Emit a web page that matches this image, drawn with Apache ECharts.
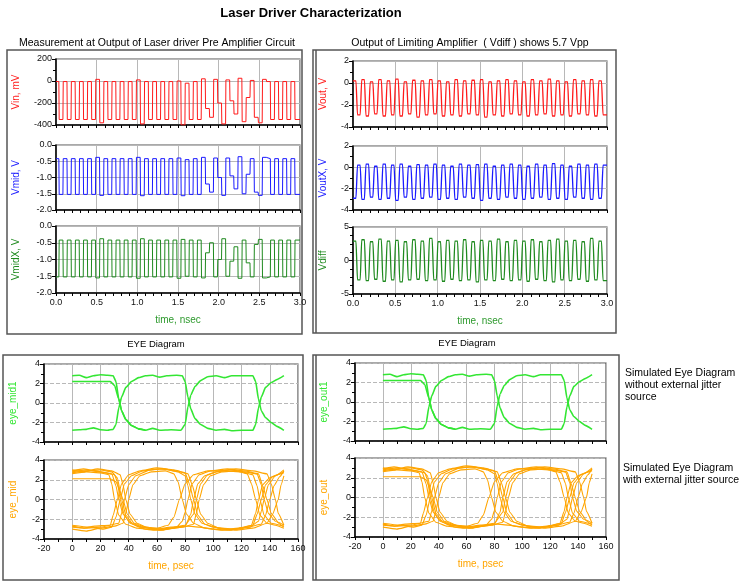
<!DOCTYPE html>
<html><head><meta charset="utf-8">
<script src="https://cdn.jsdelivr.net/npm/echarts@6/dist/echarts.min.js"></script>
<style>html,body{margin:0;padding:0;background:#fff}#c{width:750px;height:581px}</style>
</head><body><div id="c"></div>
<script>
// ---------------- DATA ----------------
// bit period and phase of the 20 Gb/s pattern (ns)
const BIT_NS = 0.05;
const BIT_OFFSET_NS = -0.015;
const timeTicksNs = [0.0, 0.5, 1.0, 1.5, 2.0, 2.5, 3.0];

// per-bit levels (left panel)
const vinLevels = [ // mV
  -5,-350,-5,-350,-5,-350,-5,-350,-5,-350,
  15,-380,-5,-350,-5,-350,-5,-350,-5,-350,
  10,-390,-5,-350,-5,-350,-5,-350,-5,-350,
  0,-400,-20,-350,-5,-350,
  20,-250,-330,15,-200,-390,10,-180,-300,25,-370,-150,5,-330,-380,15,
  -5,-350,-5,-350,-5,-350,-5,-350];
const vmidLevels = [ // V
  -0.42,-1.52,-0.42,-1.52,-0.42,-1.52,-0.42,-1.52,-0.42,-1.52,
  -0.38,-1.55,-0.42,-1.52,-0.42,-1.52,-0.42,-1.52,-0.42,-1.52,
  -0.38,-1.56,-0.42,-1.52,-0.42,-1.52,-0.42,-1.52,-0.42,-1.52,
  -0.40,-1.56,-0.45,-1.52,-0.42,-1.52,
  -0.38,-1.20,-1.45,-0.40,-1.00,-1.55,-0.40,-0.95,-1.35,-0.36,-1.50,-0.90,-0.42,-1.45,-1.55,-0.38,
  -0.42,-1.52,-0.42,-1.52,-0.42,-1.52,-0.42,-1.52];
const vmidxLevels = [ // V
  -1.52,-0.42,-1.52,-0.42,-1.52,-0.42,-1.52,-0.42,-1.52,-0.42,
  -1.55,-0.38,-1.52,-0.42,-1.52,-0.42,-1.52,-0.42,-1.52,-0.42,
  -1.56,-0.38,-1.52,-0.42,-1.52,-0.42,-1.52,-0.42,-1.52,-0.42,
  -1.56,-0.40,-1.50,-0.42,-1.52,-0.42,
  -1.55,-0.80,-0.50,-1.52,-1.00,-0.38,-1.50,-1.05,-0.62,-1.56,-0.42,-1.10,-1.52,-0.55,-0.40,-1.55,
  -1.52,-0.42,-1.52,-0.42,-1.52,-0.42,-1.52,-0.42];
// right panel
const voutLevels = [ // V
  0.2,-2.9,0.3,-3.0,0.1,-2.8,0.3,-3.0,0.2,-2.9,
  0.35,-3.0,0.1,-2.8,0.25,-3.1,0.2,-2.9,0.3,-2.8,
  0.2,-3.0,0.1,-2.9,0.3,-3.0,0.2,-2.8,0.25,-2.9,
  0.3,-3.1,0.1,-2.9,0.2,-3.0,0.3,-2.8,0.2,-2.9,
  0.1,-3.0,0.3,-2.9,0.2,-2.8,0.35,-3.0,0.2,-2.9,
  0.1,-3.0,0.3,-2.8,0.2,-2.9,0.3,-3.0,0.2,-2.9];
const voutxLevels = [ // V
  -2.9,0.2,-3.0,0.3,-2.8,0.1,-3.0,0.3,-2.9,0.2,
  -3.1,0.3,-2.8,0.1,-3.0,0.25,-2.9,0.2,-2.8,0.3,
  -3.0,0.2,-2.9,0.1,-3.0,0.3,-2.8,0.2,-2.9,0.25,
  -3.1,0.3,-2.9,0.1,-3.0,0.2,-2.8,0.3,-2.9,0.2,
  -3.0,0.1,-2.9,0.3,-2.8,0.2,-3.0,0.35,-2.9,0.2,
  -3.0,0.1,-2.8,0.3,-2.9,0.2,-3.0,0.3,-2.9,0.2];
const vdiffLevels = [ // V
  2.9,-2.9,3.1,-3.0,2.8,-2.8,3.2,-3.1,2.9,-2.9,
  3.0,-3.2,2.8,-2.9,3.1,-2.8,2.9,-3.0,3.3,-2.9,
  2.8,-3.1,3.0,-2.8,2.9,-3.0,3.1,-2.9,2.8,-3.2,
  3.0,-2.9,2.9,-3.0,3.2,-2.8,2.8,-3.0,3.0,-2.9,
  2.9,-3.1,3.1,-2.8,2.8,-3.0,3.0,-3.2,3.2,-2.9,
  2.9,-3.0,3.0,-2.8,2.8,-3.1,3.3,-2.9,2.9,-3.0];

// eye diagram traces without jitter: [time ps, V]
const eyeCleanHigh = [[0,2.8],[5,2.85],[10,2.6],[15,2.8],[20,2.9],[25,2.85],[29,2.8],[31,2.2],[33,0.4],[35,-0.8],[38,-1.7],[42,-2.3],[47,-2.65],[52,-2.8],[57,-2.6],[62,-2.8],[70,-2.75],[77,-2.8],[80,-2.2],[82,-0.4],[84,0.8],[87,1.7],[91,2.3],[96,2.7],[102,2.8],[108,2.6],[113,2.8],[120,2.8],[128,2.8],[130,2.2],[132,0.4],[134,-0.8],[137,-1.5],[141,-2.0],[145,-2.4],[150,-2.8]];
const eyeCleanLow = [[0,-2.8],[5,-2.75],[10,-2.7],[15,-2.55],[20,-2.75],[25,-2.8],[29,-2.7],[31,-2.2],[33,-0.5],[35,0.6],[38,1.6],[42,2.2],[47,2.6],[52,2.8],[57,2.85],[62,2.65],[67,2.8],[74,2.85],[78,2.8],[80,2.2],[82,0.6],[84,-0.6],[87,-1.6],[91,-2.2],[96,-2.6],[102,-2.8],[108,-2.7],[113,-2.85],[120,-2.8],[128,-2.8],[130,-2.2],[132,-0.5],[134,0.6],[137,1.6],[141,2.1],[145,2.4],[150,2.8]];
const eyeCleanInit = [[0,2.2],[27,2.2],[30,1.8],[33,0.4],[35,-0.8],[38,-1.7],[42,-2.3],[47,-2.65],[52,-2.8]];

// eye diagram traces with external jitter: [time ps, V]
const eyeJitterTraces = [
  [[0,2.9],[8,3.1],[16,2.9],[24,2.7],[30,2.5],[32,1.8],[34,0],[37,-1.6],[41,-2.4],[48,-2.8],[60,-3.0],[70,-2.8],[80,-2.7],[84,-1.5],[86,0],[89,1.6],[94,2.4],[102,2.8],[112,3.0],[122,2.8],[131,2.6],[134,1.5],[136,0],[139,-1.4],[144,-2.2],[150,-2.8]],
  [[0,-2.7],[8,-2.9],[16,-2.7],[26,-2.6],[33,-2.4],[35,-1.4],[37,0],[40,1.5],[45,2.4],[55,3.0],[65,3.1],[75,2.8],[80,2.4],[82,1.4],[84,0],[87,-1.5],[92,-2.4],[100,-2.8],[112,-3.1],[124,-2.8],[134,-2.5],[137,-1.6],[140,0],[143,1.4],[147,2.3],[150,2.9]],
  [[0,2.1],[27,2.1],[31,1.8],[34,0.8],[36,0],[39,-1.5],[44,-2.4],[52,-2.8],[62,-3.1],[72,-2.9],[82,-2.7],[90,-2.8],[100,-3.0],[110,-3.1],[120,-2.9],[127,-2.6],[130,-1.4],[132,0],[135,1.5],[140,2.2],[145,2.5],[150,2.7]],
  [[0,2.6],[10,2.8],[20,2.7],[26,2.5],[28,1.6],[30,0],[33,-1.6],[38,-2.5],[46,-2.9],[58,-3.1],[70,-2.9],[80,-2.6],[86,-1.5],[88,0],[91,1.6],[96,2.5],[104,2.9],[116,3.1],[128,2.9],[138,2.6],[141,1.6],[144,0],[146,-1.4],[150,-2.6]],
  [[0,-3.0],[10,-3.2],[20,-2.9],[30,-2.7],[36,-2.4],[38,-1.4],[40,0],[43,1.5],[48,2.4],[56,2.8],[66,2.9],[72,2.6],[75,1.8],[78,0],[81,-1.5],[86,-2.4],[94,-2.9],[106,-3.1],[118,-2.9],[128,-2.6],[131,-1.5],[134,0],[137,1.5],[142,2.3],[150,2.8]],
  [[0,3.0],[8,2.8],[18,3.1],[28,2.9],[34,2.5],[36,1.5],[38,0],[41,-1.5],[46,-2.4],[54,-2.9],[66,-3.0],[78,-2.8],[86,-2.5],[88,-1.4],[90,0],[93,1.5],[98,2.4],[106,2.8],[116,2.9],[124,2.6],[127,1.6],[130,0],[133,-1.6],[138,-2.4],[144,-2.6],[150,-2.9]],
  [[0,-2.8],[10,-2.9],[20,-2.8],[27,-2.6],[29,-1.6],[32,0],[35,1.6],[40,2.5],[48,2.9],[60,3.2],[72,3.0],[80,2.7],[83,1.6],[86,0],[89,-1.6],[94,-2.5],[104,-2.9],[116,-3.1],[128,-2.9],[138,-2.4],[142,-1.5],[146,0],[148,1.5],[150,2.4]],
  [[0,2.7],[10,2.9],[20,3.0],[28,2.8],[32,2.2],[35,0],[38,-1.6],[43,-2.5],[52,-3.0],[64,-3.1],[74,-2.8],[78,-2.2],[80,-1.3],[82,0],[85,1.6],[90,2.5],[98,2.9],[110,3.1],[122,2.9],[132,2.6],[135,1.4],[138,0],[141,-1.4],[146,-2.3],[150,-2.6]],
  [[0,-2.6],[12,-2.8],[22,-3.0],[28,-2.8],[31,-1.8],[34,0],[37,1.6],[42,2.4],[50,2.9],[62,3.1],[74,2.9],[82,2.6],[85,1.5],[88,0],[91,-1.5],[96,-2.4],[104,-2.9],[116,-3.0],[126,-2.8],[132,-2.2],[134,-1.2],[136,0],[139,1.5],[144,2.4],[150,3.0]],
  [[0,2.8],[10,3.0],[20,2.8],[28,2.6],[31,1.4],[33,0],[36,-1.5],[41,-2.3],[50,-2.8],[60,-2.9],[68,-2.6],[72,-1.8],[76,0],[80,1.6],[86,2.5],[96,2.9],[108,2.9],[120,2.8],[128,2.5],[131,1.4],[133,0],[136,-1.6],[141,-2.4],[150,-2.7]]
];
// the limiting-amplifier output eyes look the same as the pre-amplifier ones
const eyeOutCleanTraces = [eyeCleanHigh, eyeCleanLow, eyeCleanInit];
const eyeMidCleanTraces = [eyeCleanHigh, eyeCleanLow, eyeCleanInit];
const eyeOutJitterTraces = eyeJitterTraces;
const eyeTicksPs = [-20, 0, 20, 40, 60, 80, 100, 120, 140, 160];

// ---------------- BUILD ----------------
function wave(levels, rise) {
  const pts = [];
  const n = levels.length;
  levels.forEach((v, i) => {
    const t0 = Math.max(0, BIT_OFFSET_NS + i * BIT_NS);
    const t1 = i === n - 1 ? 3 : BIT_OFFSET_NS + (i + 1) * BIT_NS;
    pts.push([i === 0 ? 0 : t0 + rise, v]);
    pts.push([t1, v]);
  });
  return pts;
}

const FONT = '"Liberation Sans", Arial, sans-serif';
const RED = '#ff1a1a', BLUE = '#1a1aff', DGREEN = '#1f8a1f', LGREEN = '#33e633', ORANGE = '#ffa500';

const grids = [
  {left:56, top:59, width:244, height:66},
  {left:56, top:145, width:244, height:65},
  {left:56, top:226, width:244, height:67},
  {left:353, top:61, width:254, height:66},
  {left:353, top:146, width:254, height:64},
  {left:353, top:227, width:254, height:67},
  {left:44, top:364, width:254, height:78},
  {left:44, top:460, width:254, height:79},
  {left:355, top:363, width:251, height:78},
  {left:355, top:458, width:251, height:79}
].map(g => Object.assign(g, {show:true, borderColor:'#555', borderWidth:1.2}));

function xTime(gi, showLabel) {
  return {gridIndex:gi, type:'value', min:timeTicksNs[0], max:timeTicksNs[timeTicksNs.length-1], interval:0.5,
    axisLine:{show:true, onZero:false, lineStyle:{color:'#000', width:1.5}},
    axisTick:{show:true, length:3, lineStyle:{color:'#000'}},
    minorTick:{show:true, splitNumber:5, length:3, lineStyle:{color:'#000'}},
    axisLabel:{show:showLabel, formatter:v => v.toFixed(1), fontSize:9, color:'#111', margin:5, fontFamily:FONT},
    splitLine:{show:true, lineStyle:{color:'#b8b8b8', width:1}},
    name: showLabel ? 'time, nsec' : '', nameLocation:'middle', nameGap:22,
    nameTextStyle:{color:'#2e9a2e', fontSize:10, fontFamily:FONT}};
}
function xEye(gi, showLabel) {
  return {gridIndex:gi, type:'value', min:eyeTicksPs[0], max:eyeTicksPs[eyeTicksPs.length-1], interval:20,
    axisLine:{show:true, onZero:false, lineStyle:{color:'#000', width:1.5}},
    axisTick:{show:true, length:3, lineStyle:{color:'#000'}},
    minorTick:{show:true, splitNumber:2, length:3, lineStyle:{color:'#000'}},
    axisLabel:{show:showLabel, fontSize:9, color:'#111', margin:5, fontFamily:FONT},
    splitLine:{show:true, lineStyle:{color:'#b8b8b8', width:1}},
    name: showLabel ? 'time, psec' : '', nameLocation:'middle', nameGap:22,
    nameTextStyle:{color:ORANGE, fontSize:10, fontFamily:FONT}};
}
function yAx(gi, min, max, interval, name, color, gap, fmt, minorSplit, dashed) {
  return {gridIndex:gi, type:'value', min, max, interval,
    axisLine:{show:true, onZero:false, lineStyle:{color:'#000', width:1.5}},
    axisTick:{show:true, length:4, lineStyle:{color:'#000'}},
    minorTick:{show:!!minorSplit, splitNumber:minorSplit || 2, length:3, lineStyle:{color:'#000'}},
    axisLabel:{fontSize:9, color:'#111', margin:4, formatter:fmt, fontFamily:FONT},
    splitLine:{show:true, lineStyle:{color:'#b8b8b8', type: dashed ? 'dashed' : 'solid'}},
    name, nameLocation:'middle', nameGap:gap, nameRotate:90,
    nameTextStyle:{color, fontSize:10, fontFamily:FONT}};
}
const f1 = v => v.toFixed(1);
const f0 = v => String(v);

const xAxis = [xTime(0,false), xTime(1,false), xTime(2,true), xTime(3,false), xTime(4,false), xTime(5,true),
  xEye(6,false), xEye(7,true), xEye(8,false), xEye(9,true)];
const yAxis = [
  yAx(0,-400,200,200,'Vin, mV',RED,35,f0,2),
  yAx(1,-2,0,0.5,'Vmid, V',BLUE,35,f1,0),
  yAx(2,-2,0,0.5,'VmidX, V',DGREEN,35,f1,0),
  yAx(3,-4,2,2,'Vout, V',RED,25,f0,2),
  yAx(4,-4,2,2,'VoutX, V',BLUE,25,f0,2),
  yAx(5,-5,5,5,'Vdiff',DGREEN,25,f0,4),
  yAx(6,-4,4,2,'eye_mid1',LGREEN,26,f0,2,true),
  yAx(7,-4,4,2,'eye_mid',ORANGE,26,f0,2,true),
  yAx(8,-4,4,2,'eye_out1',LGREEN,26,f0,2,true),
  yAx(9,-4,4,2,'eye_out',ORANGE,26,f0,2,true)
];

function ln(idx, data, color, width, smooth) {
  return {type:'line', xAxisIndex:idx, yAxisIndex:idx, data, symbol:'none', smooth:smooth || false,
    smoothMonotone:'x', lineStyle:{color, width}, itemStyle:{color}, silent:true};
}
const series = [
  ln(0, wave(vinLevels, 0.004), RED, 1),
  ln(1, wave(vmidLevels, 0.004), BLUE, 1),
  ln(2, wave(vmidxLevels, 0.004), DGREEN, 1),
  ln(3, wave(voutLevels, 0.018), RED, 1.3, 0.2),
  ln(4, wave(voutxLevels, 0.018), BLUE, 1.3, 0.2),
  ln(5, wave(vdiffLevels, 0.018), DGREEN, 1.3, 0.2)
];
eyeMidCleanTraces.forEach(t => series.push(ln(6, t, LGREEN, 1.6, 0.15)));
eyeJitterTraces.forEach(t => series.push(ln(7, t, ORANGE, 1.1, 0.15)));
eyeOutCleanTraces.forEach(t => series.push(ln(8, t, LGREEN, 1.6, 0.15)));
eyeOutJitterTraces.forEach(t => series.push(ln(9, t, ORANGE, 1.1, 0.15)));

function txt(x, y, text, font, align) {
  return {type:'text', x, y, silent:true,
    style:{text, font, fill:'#000', align:align || 'center', textAlign:align || 'center', verticalAlign:'middle', textVerticalAlign:'middle'}};
}
function box(x, y, w, h) {
  return {type:'rect', silent:true, shape:{x, y, width:w, height:h}, style:{fill:'none', stroke:'#555', lineWidth:1.5}};
}
function vline(x, y1, y2) {
  return {type:'line', silent:true, shape:{x1:x, y1, x2:x, y2}, style:{stroke:'#555', lineWidth:1.5}};
}
const REG = '10.5px ' + FONT;
const graphic = [
  txt(311, 13, 'Laser Driver Characterization', 'bold 13px ' + FONT),
  txt(157, 43, 'Measurement at Output of Laser driver Pre Amplifier Circuit', REG),
  txt(470, 43, 'Output of Limiting Amplifier  ( Vdiff ) shows 5.7 Vpp', REG),
  box(7, 50, 295, 284),
  box(313, 50, 303, 283), vline(316, 50, 333),
  txt(156, 344, 'EYE Diagram', '9.5px ' + FONT),
  txt(467, 343, 'EYE Diagram', '9.5px ' + FONT),
  box(3, 355, 300, 225),
  box(313, 355, 306, 225), vline(316, 355, 580),
  txt(625, 373, 'Simulated Eye Diagram', REG, 'left'),
  txt(625, 385, 'without external jitter', REG, 'left'),
  txt(625, 397, 'source', REG, 'left'),
  txt(623, 468, 'Simulated Eye Diagram', REG, 'left'),
  txt(623, 480, 'with external jitter source', REG, 'left')
];

const chart = echarts.init(document.getElementById('c'), null, {renderer:'canvas'});
chart.setOption({animation:false, backgroundColor:'#fff', textStyle:{fontFamily:FONT},
  grid:grids, xAxis, yAxis, series, graphic});
</script></body></html>
